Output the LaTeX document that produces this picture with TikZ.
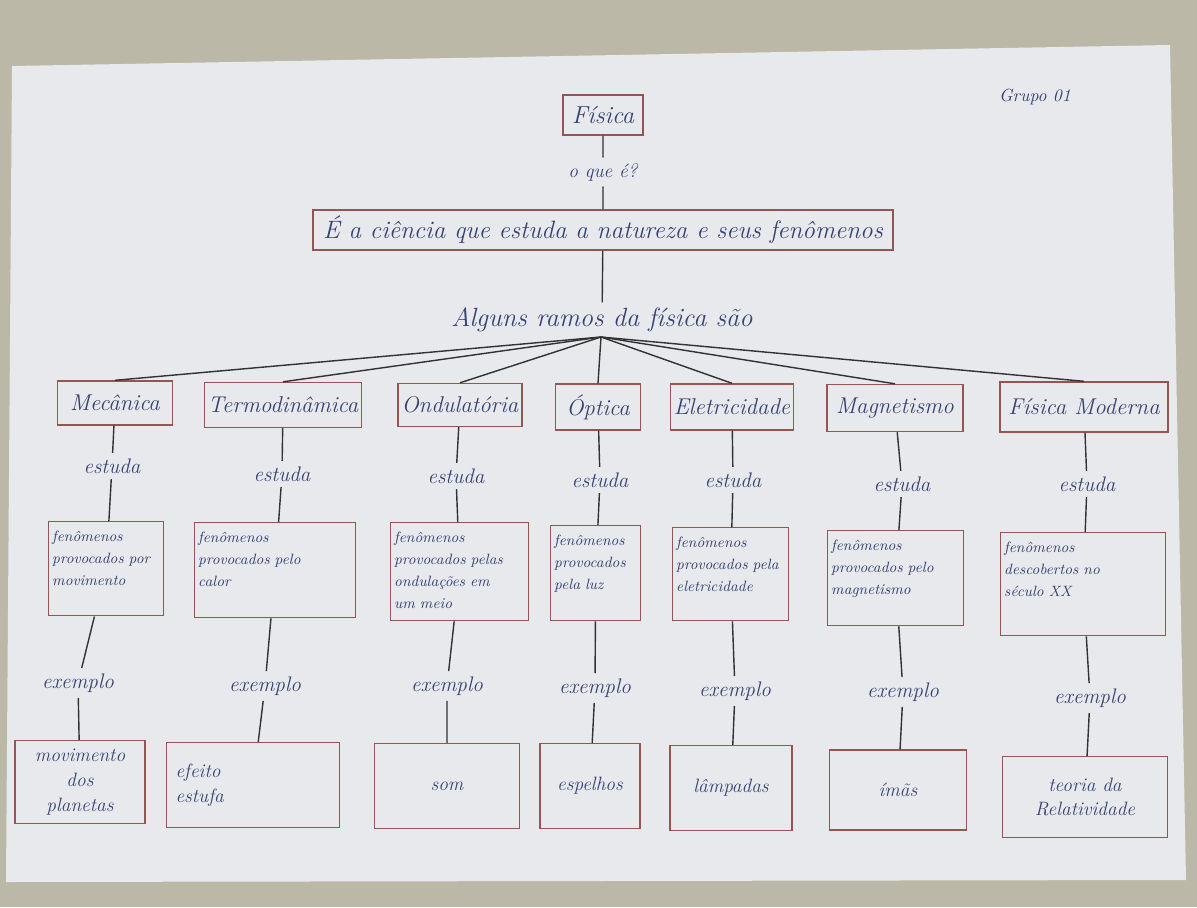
\documentclass[tikz,border=0pt]{standalone}
\usepackage{fontspec}
\definecolor{boxred}{RGB}{150,85,85}
\definecolor{ink}{RGB}{55,65,115}
\definecolor{wire}{RGB}{50,50,50}
\definecolor{paper}{RGB}{231,233,237}
\definecolor{table}{RGB}{188,184,168}
\newcommand{\hand}[2]{\itshape\fontsize{#1}{#2}\selectfont}
\tikzset{
    caixa/.style={draw=boxred, line width=0.8pt, inner sep=2pt},
    ramo/.style={caixa, font=\hand{13}{15}},
    meio/.style 2 args={caixa, anchor=north west, align=left, inner sep=2pt,
        text width=#1, text height=0.32cm, text depth=#2, font=\hand{8.5}{12.5}},
    fim/.style={caixa, align=center, font=\hand{11}{14}},
    rotulo/.style={inner sep=3pt, font=\hand{12}{14}},
    liga/.style={draw=wire, line width=0.8pt}
}
\begin{document}
\begin{tikzpicture}[x=0.02cm, y=-0.02cm, every node/.append style={text=ink}]
    \useasboundingbox (0,0) rectangle (1197,907);
    \fill[table] (0,0) rectangle (1197,907);
    \fill[paper] (12,66) -- (1170,45) -- (1186,880) -- (6,882) -- cycle;

    % topo
    \node[caixa, minimum width=1.6cm, minimum height=0.8cm, font=\hand{14}{16}] (fisica) at (603,115) {Física};
    \node[rotulo, font=\hand{11}{13}] (oque) at (603,172) {o que é?};
    \node[caixa, minimum width=11.6cm, minimum height=0.8cm, font=\hand{14.3}{17}] (def) at (603,230) {É a ciência que estuda a natureza e seus fenômenos};
    \node[rotulo, font=\hand{15}{17}] (alg) at (602,320) {Alguns ramos da física são};
    \coordinate (hub) at (601,337);
    \node[font=\hand{10}{12}] (grupo) at (1035,97) {Grupo 01};

    % ramos
    \node[ramo, minimum width=2.3cm, minimum height=0.88cm] (mec) at (115,403) {Mecânica};
    \node[ramo, minimum width=3.14cm, minimum height=0.9cm] (termo) at (283,405) {Termodinâmica};
    \node[ramo, minimum width=2.48cm, minimum height=0.86cm] (ond) at (460,405) {Ondulatória};
    \node[ramo, minimum width=1.7cm, minimum height=0.92cm] (opt) at (598,407) {Óptica};
    \node[ramo, minimum width=2.3cm, minimum height=0.92cm] (ele) at (732,407) {Eletricidade};
    \node[ramo, minimum width=2.72cm, minimum height=0.94cm] (mag) at (895,408) {Magnetismo};
    \node[ramo, minimum width=3.36cm, minimum height=1.0cm] (mod) at (1084,407) {Física Moderna};

    \foreach \n/\x/\y in {mec/112/466, termo/282/474, ond/456/476, opt/600/480, ele/733/480, mag/902/484, mod/1087/484}
        \node[rotulo] (est-\n) at (\x,\y) {estuda};

    % fenomenos
    \node[meio={2.16cm}{1.42cm}] (fen-mec) at (48,521) {fenômenos\\provocados por\\movimento};
    \node[meio={3.08cm}{1.44cm}] (fen-termo) at (194,522) {fenômenos\\provocados pelo\\calor};
    \node[meio={2.62cm}{1.50cm}] (fen-ond) at (390,522) {fenômenos\\provocados pelas\\ondulações em\\um meio};
    \node[meio={1.66cm}{1.44cm}] (fen-opt) at (550,525) {fenômenos\\provocados\\pela luz};
    \node[meio={2.18cm}{1.40cm}] (fen-ele) at (672,527) {fenômenos\\provocados pela\\eletricidade};
    \node[meio={2.58cm}{1.44cm}] (fen-mag) at (827,530) {fenômenos\\provocados pelo\\magnetismo};
    \node[meio={3.16cm}{1.60cm}] (fen-mod) at (1000,532) {fenômenos\\descobertos no\\século XX};

    \foreach \n/\x/\y in {mec/78/683, termo/265/686, ond/447/686, opt/595/688, ele/735/691, mag/903/692, mod/1090/698}
        \node[rotulo] (ex-\n) at (\x,\y) {exemplo};

    % exemplos
    \node[fim, minimum width=2.6cm, minimum height=1.66cm] (fim-mec) at (80,782) {movimento\\dos\\planetas};
    \node[fim, minimum width=3.46cm, minimum height=1.7cm, text width=3.1cm, align=left] (fim-termo) at (253,785) {efeito\\estufa};
    \node[fim, minimum width=2.9cm, minimum height=1.7cm] (fim-ond) at (447,786) {som};
    \node[fim, minimum width=2.0cm, minimum height=1.7cm] (fim-opt) at (590,786) {espelhos};
    \node[fim, minimum width=2.44cm, minimum height=1.7cm] (fim-ele) at (731,788) {lâmpadas};
    \node[fim, minimum width=2.74cm, minimum height=1.6cm] (fim-mag) at (898,790) {ímãs};
    \node[fim, minimum width=3.3cm, minimum height=1.62cm] (fim-mod) at (1085,797) {teoria da\\Relatividade};

    % ligacoes
    \draw[liga] (fisica) -- (oque) -- (def) -- (alg);
    \foreach \n in {mec, termo, ond, opt, ele, mag, mod}
        \draw[liga] (hub) -- (\n.north) (\n) -- (est-\n) -- (fen-\n) -- (ex-\n) -- (fim-\n);
\end{tikzpicture}
\end{document}
